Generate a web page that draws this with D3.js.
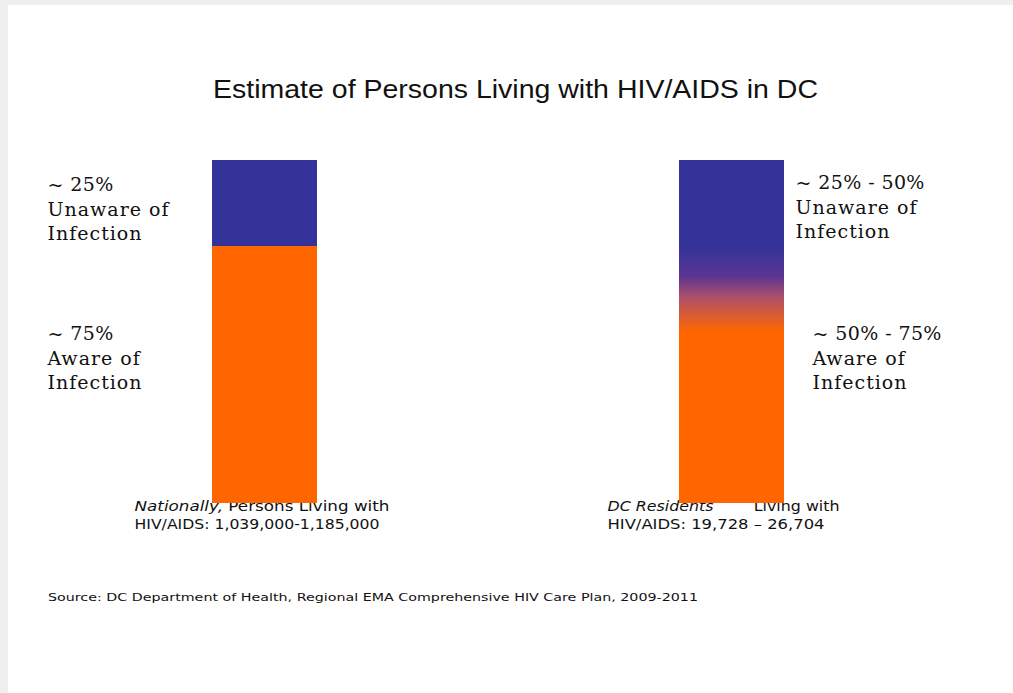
<!DOCTYPE html>
<html>
<head>
<meta charset="utf-8">
<script src="https://cdn.jsdelivr.net/npm/d3@7"></script>
<style>
  html, body { margin: 0; padding: 0; background: #ffffff; }
  svg { display: block; }
</style>
</head>
<body>
<svg id="chart" width="1013" height="693"></svg>
<script>
// ---- Data ----
const categories = ["Nationally", "DC Residents"];
const awareLow = [75, 50];     // % aware of infection (low estimate)
const awareHigh = [75, 75];    // % aware of infection (high estimate)
const unawareLow = [25, 25];   // % unaware (low estimate)
const unawareHigh = [25, 50];  // % unaware (high estimate)
const unawareLabels = [["~ 25%", "Unaware of", "Infection"], ["~ 25% - 50%", "Unaware of", "Infection"]];
const awareLabels = [["~ 75%", "Aware of", "Infection"], ["~ 50% - 75%", "Aware of", "Infection"]];
const captionLine1 = [
  [{t: "Nationally,", i: true}, {t: " Persons Living with", i: false}],
  [{t: "DC Residents", i: true}, {t: "        Living with", i: false}]
];
const captionLine2 = ["HIV/AIDS: 1,039,000-1,185,000", "HIV/AIDS: 19,728 \u2013 26,704"];
const titleText = "Estimate of Persons Living with HIV/AIDS in DC";
const sourceText = "Source: DC Department of Health, Regional EMA Comprehensive HIV Care Plan, 2009-2011";

const BLUE = "#333399", ORANGE = "#ff6600";

const svg = d3.select("#chart");

// page frame (light gray strip top/left like the screenshot)
svg.append("rect").attr("x", 0).attr("y", 0).attr("width", 1013).attr("height", 693).attr("fill", "#efefef");
svg.append("rect").attr("x", 8).attr("y", 5).attr("width", 1005).attr("height", 688).attr("fill", "#ffffff");

// scales
const x = d3.scalePoint().domain(categories).range([264.5, 731.5]);
const y = d3.scaleLinear().domain([0, 100]).range([503, 160]);
const barW = 105;

// title
svg.append("text")
  .attr("x", 213).attr("y", 98)
  .attr("font-family", "Liberation Sans, Arial, sans-serif")
  .attr("font-size", 25)
  .attr("textLength", 605).attr("lengthAdjust", "spacingAndGlyphs")
  .attr("fill", "#111")
  .text(titleText);

// captions (drawn before bars: bars overlap top of text)
categories.forEach((c, i) => {
  const cx = x(c);
  const tx = i === 0 ? cx - 130 : cx - 124;
  const t1 = svg.append("text")
    .attr("x", tx).attr("y", 511)
    .attr("font-family", "DejaVu Sans, sans-serif")
    .attr("font-size", 14)
    .attr("fill", "#111")
    .attr("style", "white-space: pre")
    .attr("textLength", i === 0 ? 255 : 232).attr("lengthAdjust", "spacingAndGlyphs");
  captionLine1[i].forEach(p => {
    t1.append("tspan").attr("font-style", p.i ? "italic" : "normal").text(p.t);
  });
  svg.append("text")
    .attr("x", tx).attr("y", 529)
    .attr("font-family", "DejaVu Sans, sans-serif")
    .attr("font-size", 14)
    .attr("fill", "#111")
    .attr("textLength", i === 0 ? 245 : 217).attr("lengthAdjust", "spacingAndGlyphs")
    .text(captionLine2[i]);
});

// gradient defs
const defs = svg.append("defs");

// bars
categories.forEach((c, i) => {
  const x0 = x(c) - barW / 2;
  const aLo = awareLow[i];
  const aHi = 100 - unawareLow[i];
  const top = Math.round(y(100)), mid1 = Math.round(y(aHi)), mid2 = Math.round(y(aLo)), bot = Math.round(y(0));
  // solid aware part
  svg.append("rect")
    .attr("x", x0).attr("width", barW)
    .attr("y", mid2).attr("height", bot - mid2)
    .attr("shape-rendering", "crispEdges")
    .attr("fill", ORANGE);
  // uncertain (gradient) part
  if (aHi > aLo) {
    const gid = "grad" + i;
    const g = defs.append("linearGradient").attr("id", gid)
      .attr("gradientUnits", "userSpaceOnUse")
      .attr("x1", 0).attr("x2", 0).attr("y1", mid1).attr("y2", mid2);
    g.append("stop").attr("offset", "0%").attr("stop-color", BLUE);
    g.append("stop").attr("offset", "35%").attr("stop-color", "#5a3592");
    g.append("stop").attr("offset", "60%").attr("stop-color", "#b0506a");
    g.append("stop").attr("offset", "100%").attr("stop-color", ORANGE);
    svg.append("rect")
      .attr("x", x0).attr("width", barW)
      .attr("y", mid1).attr("height", mid2 - mid1)
      .attr("shape-rendering", "crispEdges")
      .attr("fill", `url(#${gid})`);
  }
  // solid unaware part
  svg.append("rect")
    .attr("x", x0).attr("width", barW)
    .attr("y", top).attr("height", mid1 - top)
    .attr("shape-rendering", "crispEdges")
    .attr("fill", BLUE);
});

// segment labels
function drawLabel(lines, lx, ly) {
  const t = svg.append("text")
    .attr("font-family", "DejaVu Serif, serif")
    .attr("font-size", 19)
    .attr("fill", "#111");
  lines.forEach((l, k) => {
    t.append("tspan").attr("x", lx).attr("y", ly + k * 24.5)
      .attr("letter-spacing", k === 0 ? 0.4 : 1)
      .text(l);
  });
}
categories.forEach((c, i) => {
  const cx = x(c);
  if (i === 0) {
    drawLabel(unawareLabels[i], cx - 217, 191);
    drawLabel(awareLabels[i], cx - 217, 340);
  } else {
    drawLabel(unawareLabels[i], cx + 64, 189);
    drawLabel(awareLabels[i], cx + 81, 340);
  }
});

// source
svg.append("text")
  .attr("x", 48).attr("y", 601)
  .attr("font-family", "DejaVu Sans, sans-serif")
  .attr("font-size", 11)
  .attr("textLength", 650).attr("lengthAdjust", "spacingAndGlyphs")
  .attr("fill", "#111")
  .text(sourceText);
</script>
</body>
</html>
